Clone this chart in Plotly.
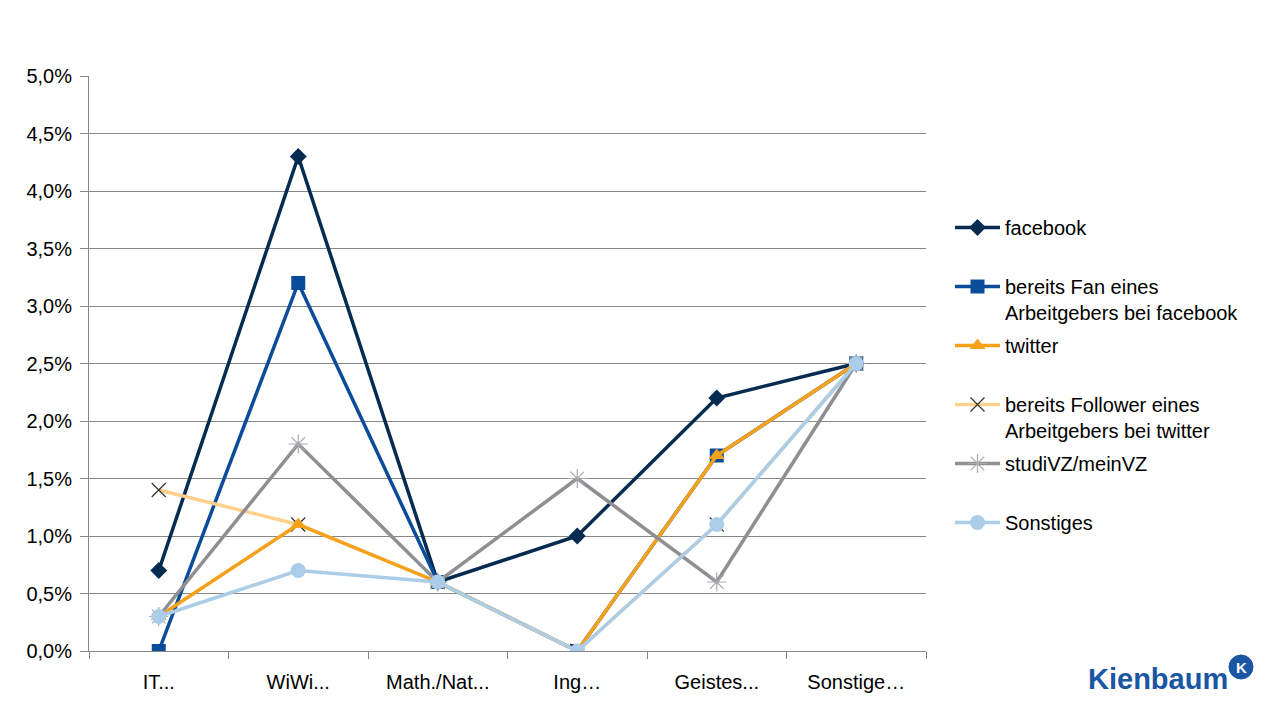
import plotly.graph_objects as go

categories = ["IT...", "WiWi...", "Math./Nat...", "Ing…", "Geistes...", "Sonstige…"]

facebook = [0.7, 4.3, 0.6, 1.0, 2.2, 2.5]
fan_facebook = [0.0, 3.2, 0.6, 0.0, 1.7, 2.5]
twitter = [0.3, 1.1, 0.6, 0.0, 1.7, 2.5]
follower_twitter = [1.4, 1.1, 0.6, 0.0, 1.1, 2.5]
studivz = [0.3, 1.8, 0.6, 1.5, 0.6, 2.5]
sonstiges = [0.3, 0.7, 0.6, 0.0, 1.1, 2.5]

y_ticks = [0, 0.5, 1.0, 1.5, 2.0, 2.5, 3.0, 3.5, 4.0, 4.5, 5.0]
y_tick_labels = ["0,0%", "0,5%", "1,0%", "1,5%", "2,0%", "2,5%",
                 "3,0%", "3,5%", "4,0%", "4,5%", "5,0%"]

# (name, values, line color, marker dict, legend rank)
series = [
    ("facebook<br> ", facebook, "#062b50",
     dict(symbol="diamond", size=13, color="#062b50"), 1),
    ("bereits Fan eines<br>Arbeitgebers bei facebook", fan_facebook, "#0a4c9a",
     dict(symbol="square", size=14, color="#0a4c9a"), 2),
    ("bereits Follower eines<br>Arbeitgebers bei twitter", follower_twitter, "#fdd08c",
     dict(symbol="x-thin", size=14, color="#333333", line=dict(color="#333333", width=1.2)), 4),
    ("twitter<br> ", twitter, "#f4a11c",
     dict(symbol="triangle-up", size=14, color="#f4a11c"), 3),
    ("studiVZ/meinVZ<br> ", studivz, "#8e8e93",
     dict(symbol="asterisk-open", size=16, color="#a8a8ad", line=dict(color="#a8a8ad", width=1.2)), 5),
    ("Sonstiges<br> ", sonstiges, "#abcde8",
     dict(symbol="circle", size=15, color="#abcde8"), 6),
]

fig = go.Figure()
for i, (name, vals, col, mk, rank) in enumerate(series):
    fig.add_trace(go.Scatter(
        x=categories, y=vals, name=name, mode="lines+markers",
        line=dict(color=col, width=3.5), marker=mk,
        legendrank=rank, legendgroup="g%d" % rank,
    ))

W, H = 1267, 718
L, R, T, B = 89, 926, 76, 651

def px(x):
    return (x - L) / (R - L)

def py(y):
    return (B - y) / (B - T)

fig.update_layout(
    width=W, height=H,
    margin=dict(l=L, r=W - R, t=T, b=H - B),
    paper_bgcolor="white", plot_bgcolor="white",
    font=dict(family="Liberation Sans, Arial, sans-serif", size=20, color="black"),
    showlegend=True,
    legend=dict(
        x=px(950), y=py(208), xanchor="left", yanchor="top",
        valign="top", tracegroupgap=4, itemwidth=45,
        font=dict(size=20, color="black"), bgcolor="rgba(0,0,0,0)",
        traceorder="grouped",
    ),
    xaxis=dict(
        type="category", showline=True, linecolor="#888888", linewidth=1,
        ticks="outside", ticklen=7, tickcolor="#888888", tickson="boundaries",
        showgrid=False, ticklabelstandoff=13, range=[-0.5, 5.5],
        tickfont=dict(size=20),
    ),
    yaxis=dict(
        range=[0, 5.0], tickvals=y_ticks, ticktext=y_tick_labels,
        showline=True, linecolor="#888888", linewidth=1,
        ticks="outside", ticklen=8, tickcolor="#888888",
        showgrid=True, gridcolor="#888888", gridwidth=1, zeroline=False,
        ticklabelstandoff=4, tickfont=dict(size=20),
    ),
)

# Kienbaum logo
fig.add_annotation(
    x=px(1086), y=py(679), xref="paper", yref="paper", xanchor="left", yanchor="middle",
    text="<b>Kienbaum</b>", showarrow=False,
    font=dict(family="Liberation Sans, Arial, sans-serif", size=29, color="#1a56a4"),
)
fig.add_shape(
    type="circle", xref="paper", yref="paper",
    x0=px(1229), x1=px(1253), y0=py(679), y1=py(655),
    fillcolor="#1a56a4", line=dict(color="#1a56a4", width=1),
)
fig.add_annotation(
    x=px(1241), y=py(667), xref="paper", yref="paper", xanchor="center", yanchor="middle",
    text="<b>K</b>", showarrow=False,
    font=dict(family="Liberation Sans, Arial, sans-serif", size=15, color="white"),
)

fig.write_html("out.html")
